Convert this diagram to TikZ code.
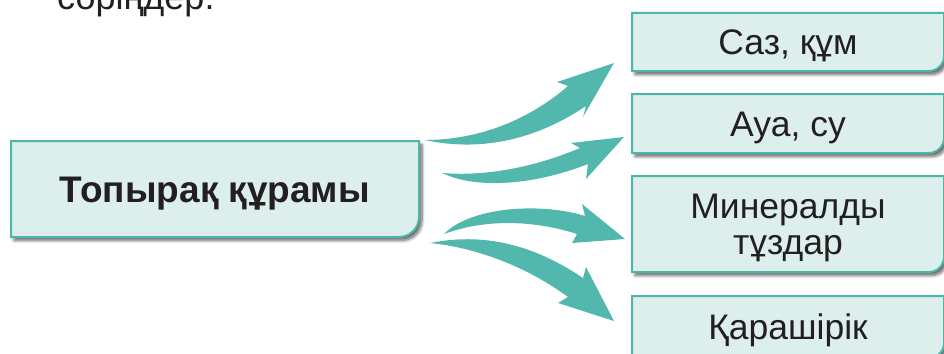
\documentclass[tikz,border=0pt]{standalone}
\usepackage{fontspec}
\setmainfont{Liberation Sans}
\usetikzlibrary{shadows.blur,backgrounds}
\definecolor{tealline}{HTML}{4DB5AA}
\definecolor{tealfill}{HTML}{DCEFEC}
\definecolor{arrowteal}{HTML}{52B8AE}
\definecolor{ink}{HTML}{231F20}
\newcommand\tealbox[2]{%
  \path[boxshape] (#1.north west) -- (#1.north east)
    -- ([yshift=#2]#1.south east) arc[start angle=0, end angle=-90, radius=#2]
    -- (#1.south west) -- cycle;}
\begin{document}
\begin{tikzpicture}[x=1pt,y=-1pt,
  boxarea/.style={inner sep=0pt, outer sep=0pt, text=ink, text depth=0pt,
    font=\fontsize{35.5}{36}\selectfont, align=center},
  boxshape/.style={draw=tealline, line width=2pt, fill=tealfill,
    blur shadow={shadow xshift=3pt, shadow yshift=-3.5pt, shadow blur radius=3pt,
      shadow blur steps=8, shadow opacity=60}},
  fatarrow/.style={fill=arrowteal, draw=none}]
\useasboundingbox (0,0) rectangle (944,353);

% partial text at the top
\node[anchor=base west, inner sep=0pt, text=ink, font=\fontsize{36}{40}\selectfont] (top) at (57,10) {соріңдер.};

% boxes
\node[boxarea, minimum width=408pt, minimum height=96pt, text height=27pt,
  font=\bfseries\fontsize{37}{40}\selectfont] (main) at (215,189) {Топырақ құрамы};
\node[boxarea, minimum width=312pt, minimum height=58pt, text height=25pt] (b1) at (788,42) {Саз, құм};
\node[boxarea, minimum width=312pt, minimum height=59pt, text height=25pt] (b2) at (788,123.5) {Ауа, су};
\node[boxarea, minimum width=312pt, minimum height=96pt] (b3) at (788,224) {Минералды\\тұздар};
\node[boxarea, minimum width=312pt, minimum height=62pt, text height=25pt] (b4) at (788,327) {Қарашірік};

\begin{scope}[on background layer]
  \tealbox{main}{20pt}
  \tealbox{b1}{15pt}
  \tealbox{b2}{15pt}
  \tealbox{b3}{15pt}
  \tealbox{b4}{15pt}
\end{scope}

% curved arrows
\path[fatarrow] (425,140) .. controls (480,140) and (530,119) .. (568,86)
  -- (557,82) -- (614,63) -- (583,117) -- (586,106)
  .. controls (540,137) and (485,153) .. (425,140) -- cycle;
\path[fatarrow] (442,173) .. controls (490,177) and (540,165) .. (580,148)
  -- (571,143) -- (624,137) -- (586,179) -- (588,164)
  .. controls (540,183) and (480,191) .. (442,173) -- cycle;
\path[fatarrow] (444,234) .. controls (470,207) and (540,202) .. (585,216)
  -- (582,204) -- (625,239) -- (572,243) -- (577,234)
  .. controls (540,222) and (490,217) .. (444,234) -- cycle;
\path[fatarrow] (430,243) .. controls (490,231) and (540,249) .. (583,278)
  -- (586,267) -- (614,321) -- (558,303) -- (568,297)
  .. controls (530,269) and (480,248) .. (430,243) -- cycle;
\end{tikzpicture}
\end{document}
